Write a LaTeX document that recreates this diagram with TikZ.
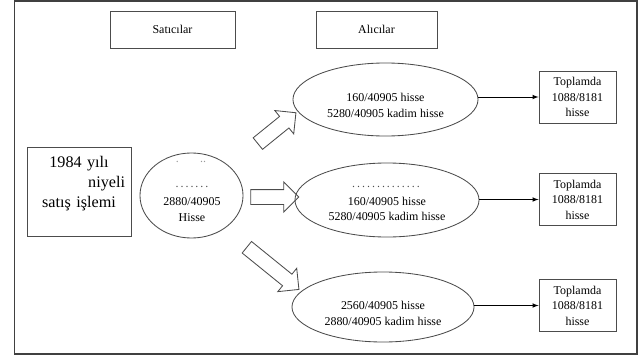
\documentclass[tikz,border=0pt]{standalone}
\usepackage{fontspec}
\setmainfont{Liberation Serif}
\usetikzlibrary{shapes.geometric,shapes.arrows}

\begin{document}
\def\px{0.025}
\def\fs{8.5}

\begin{tikzpicture}[x=\px cm,y=-\px cm]
\tikzstyle{kutu}=[draw=black!70,line width=0.6pt,fill=white,inner sep=0pt]
\tikzstyle{elips}=[draw=black!70,line width=0.6pt,ellipse,inner sep=0pt]
\tikzstyle{yazi}=[font=\fontsize{\fs}{11}\selectfont,align=center,inner sep=0pt]
\tikzstyle{nokta}=[font=\fontsize{\fs}{11}\selectfont,inner sep=0pt,text=black!70]
\tikzstyle{ok}=[->,>=latex,line width=0.5pt]
\tikzstyle{blok}=[draw=black!70,line width=0.6pt,single arrow,minimum width=0.725cm,single arrow head extend=0.19cm,inner sep=0.175cm]

\useasboundingbox (0,0) rectangle (640,356);
\draw[black!75,line width=1pt] (14.5,1) rectangle (637,354);

% basliklar
\node[kutu,yazi,minimum width=3.125cm,minimum height=0.925cm] (sat) at (172.5,29.5) {Satıcılar};
\node[kutu,yazi,minimum width=3.025cm,minimum height=0.925cm] (alc) at (376.5,29.5) {Alıcılar};

% islem
\node[kutu,minimum width=2.6cm,minimum height=2.225cm] (islem) at (79,191.5) {};
\node[font=\fontsize{11.5}{14.2}\selectfont,align=center,text width=2.3cm,inner sep=0pt] (islemyazi) at (79,184) {1984 yılı\\ \hfill niyeli\\ satış işlemi};

% satici
\node[elips,minimum width=2.575cm,minimum height=2.125cm] (satici) at (191.5,195.5) {};
\node[nokta,text=black!40] (sn1) at (191,162) {.\hspace{15pt}..};
\node[nokta] (sn2) at (192,187) {.\,.\,.\,.\,.\,.\,.};
\node[yazi] (sy) at (192,209.5) {2880/40905\\Hisse};

% bloklar
\node[blok,minimum height=1.225cm,rotate=39] (b1) at (274,130.5) {};
\node[blok,minimum height=1.2cm] (b2) at (271,197) {};
\node[blok,minimum height=1.675cm,rotate=-39] (b3) at (270,266) {};

% alicilar
\node[elips,minimum width=4.625cm,minimum height=1.825cm] (e1) at (385.5,99.5) {};
\node[yazi] (ey1) at (385.5,105.5) {160/40905 hisse\\5280/40905 kadim hisse};

\node[elips,minimum width=4.6cm,minimum height=1.85cm] (e2) at (387,200) {};
\node[nokta] (en2) at (386,187) {.\,.\,.\,.\,.\,.\,.\,.\,.\,.\,.\,.\,.\,.};
\node[yazi] (ey2) at (387,209) {160/40905 hisse\\5280/40905 kadim hisse};

\node[elips,minimum width=4.55cm,minimum height=1.75cm] (e3) at (383,307) {};
\node[yazi] (ey3) at (383,313.5) {2560/40905 hisse\\2880/40905 kadim hisse};

% toplam
\node[kutu,yazi,minimum width=1.925cm,minimum height=1.3cm] (t1) at (577.5,97) {Toplamda\\1088/8181\\hisse};
\node[kutu,yazi,minimum width=1.925cm,minimum height=1.3cm] (t2) at (577.5,199.5) {Toplamda\\1088/8181\\hisse};
\node[kutu,yazi,minimum width=1.925cm,minimum height=1.3cm] (t3) at (577.5,305.5) {Toplamda\\1088/8181\\hisse};

\draw[ok] (t1.west -| e1.east) -- (t1.west);
\draw[ok] (t2.west -| e2.east) -- (t2.west);
\draw[ok] (t3.west -| e3.east) -- (t3.west);

\end{tikzpicture}
\end{document}
